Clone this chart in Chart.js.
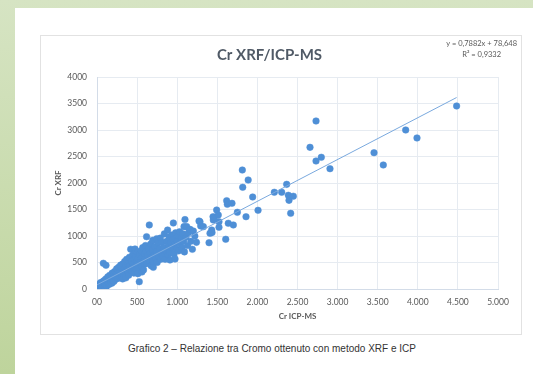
<!DOCTYPE html>
<html>
<head>
<meta charset="utf-8">
<script src="https://cdn.jsdelivr.net/npm/chart.js@4.4.0/dist/chart.umd.min.js"></script>
<style>
  html, body { margin: 0; padding: 0; }
  body {
    width: 533px; height: 374px; position: relative; overflow: hidden;
    background: linear-gradient(to bottom, #d6e4c3, #bed49c);
  }
  #page { position: absolute; left: 15px; top: 8px; right: 0; bottom: 0; background: #fff; }
  #frame { position: absolute; left: 40px; top: 35px; width: 480px; height: 298px; border: 1px solid #e2e2e2; }
  #wrap { position: absolute; left: 41px; top: 36px; width: 479px; height: 297px; }
  #eq {
    position: absolute; right: 16px; top: 38px; text-align: center;
    font: 7.5px Lato, sans-serif; color: #595959; line-height: 11px;
  }
  #caption {
    position: absolute; left: 128px; top: 343px;
    font: 10px "Liberation Sans", Arial, sans-serif; color: #333;
  }
</style>
</head>
<body>
<div id="page"></div>
<div id="frame"></div>
<div id="wrap"><canvas id="crChart" width="479" height="297"></canvas></div>
<div id="eq">y = 0,7882x + 78,648<br>R² = 0,9332</div>
<div id="caption">Grafico 2 – Relazione tra Cromo ottenuto con metodo XRF e ICP</div>
<script>
// Cr ICP-MS (x) and Cr XRF (y)
const icpValues = [
  5, 10, 15, 20, 25, 30, 35, 40, 45, 50, 55, 60, 65, 70, 75, 79, 80, 85, 90, 95, 100, 100, 112,
  105, 110, 115, 120, 125, 130, 135, 140, 145, 150, 155, 160, 165, 170, 175, 180, 185, 190, 195, 200, 200,
  205, 210, 215, 220, 225, 230, 235, 240, 245, 250, 260, 265, 270, 280, 285, 290, 295,
  300, 305, 310, 320, 320, 325, 330, 340, 345, 350, 360, 360, 365, 370, 380, 385, 390, 395,
  400, 405, 410, 420, 425, 430, 440, 445, 450, 460, 465, 470, 474, 480, 490, 495,
  500, 505, 510, 510, 520, 527, 530, 540, 550, 555, 560, 560, 570, 575, 580, 590, 595,
  600, 605, 610, 618, 620, 630, 640, 650, 652, 660, 670, 675, 680, 690, 695, 700,
  702, 710, 720, 730, 740, 744, 750, 760, 770, 780, 790, 795,
  800, 810, 820, 830, 840, 850, 860, 870, 880, 885, 890, 900,
  905, 910, 920, 930, 940, 950, 952, 960, 970, 973, 980, 990,
  1000, 1010, 1020, 1030, 1040, 1050, 1060, 1070, 1080, 1085, 1090, 1097,
  1110, 1118, 1130, 1140, 1160, 1170, 1189, 1201, 1220, 1240, 1272, 1284, 1293, 1326,
  1397, 1409, 1430, 1434, 1447, 1450, 1462, 1492, 1512, 1521, 1521, 1605, 1617, 1625, 1637, 1683, 1700,
  1750, 1812, 1817, 1858, 1885, 1941, 2008, 2211, 2303, 2365, 2386, 2394, 2415, 2448,
  2656, 2731, 2731, 2797, 2905, 3454, 3570, 3849, 3990, 4484
];
const xrfValues = [
  10, 30, 40, 60, 15, 90, 25, 45, 120, 95, 70, 20, 40, 100, 140, 485, 55, 120, 160, 85, 30, 70, 447,
  110, 190, 40, 70, 180, 150, 230, 120, 90, 200, 90, 260, 140, 170, 130, 240, 110, 300, 150, 210, 160,
  280, 140, 260, 330, 230, 180, 220, 300, 380, 250, 200, 340, 410, 290, 220, 360, 450,
  310, 250, 400, 470, 190, 330, 280, 380, 520, 300, 440, 210, 360, 560, 410, 330, 480, 260,
  390, 600, 450, 750, 350, 520, 410, 640, 480, 300, 560, 420, 755, 620, 380, 520,
  460, 700, 580, 290, 400, 138, 650, 500, 720, 430, 600, 320, 780, 520, 360, 660, 470,
  560, 820, 700, 987, 480, 620, 760, 540, 1208, 680, 850, 440, 600, 740, 920, 520,
  409, 640, 800, 580, 700, 949, 500, 870, 620, 760, 960, 560,
  680, 880, 620, 780, 1040, 560, 720, 900, 1113, 640, 820, 980,
  700, 547, 880, 1020, 780, 940, 1245, 660, 850, 566, 1060, 760,
  900, 1000, 720, 1080, 860, 960, 780, 1040, 900, 1176, 700, 1310,
  980, 1176, 820, 1060, 1126, 900, 749, 1094, 1000, 880, 1283, 1270, 1189, 1176,
  874, 1051, 1113, 1064, 1364, 1302, 1353, 1490, 1396, 1270, 1164, 938, 1666, 1598, 1240, 1617, 1208,
  1447, 2245, 1919, 1364, 2057, 1736, 1485, 1825, 1825, 1975, 1768, 1673, 1428, 1750,
  2673, 3170, 2415, 2485, 2270, 2572, 2340, 3000, 2850, 3453
];
const xTicks = [0, 500, 1000, 1500, 2000, 2500, 3000, 3500, 4000, 4500, 5000];
const xTickLabels = ['00', '500', '1.000', '1.500', '2.000', '2.500', '3.000', '3.500', '4.000', '4.500', '5.000'];
const yTicks = [0, 500, 1000, 1500, 2000, 2500, 3000, 3500, 4000];
const yTickLabels = ['0', '500', '1000', '1500', '2000', '2500', '3000', '3500', '4000'];
// linear trend given in the chart
const trendSlope = 0.7882;
const trendIntercept = 78.648;
const trendRange = [0, 4484];

const points = icpValues.map((x, i) => ({ x: x, y: xrfValues[i] }));
const trendPoints = trendRange.map(x => ({ x: x, y: trendSlope * x + trendIntercept }));

const tickFont = { family: 'Lato', size: 8.5 };
const titleFont = { family: 'Lato', size: 8, weight: 'bold' };

new Chart(document.getElementById('crChart'), {
    type: 'scatter',
    data: {
        datasets: [
            {
                type: 'line',
                data: trendPoints,
                borderColor: '#7aa9de',
                borderWidth: 1,
                pointRadius: 0,
                order: 0
            },
            {
                data: points,
                backgroundColor: '#4e8fd6',
                borderColor: '#4e8fd6',
                borderWidth: 0.5,
                pointRadius: 3.3,
                order: 1
            }
        ]
    },
    options: {
        responsive: false,
        animation: false,
        layout: { padding: { top: 0, right: 22, left: 0, bottom: 0 } },
        plugins: {
            legend: { display: false },
            tooltip: { enabled: false },
            title: {
                display: true,
                text: 'Cr XRF/ICP-MS',
                color: '#505a66',
                font: { family: 'Lato', size: 15, weight: 'bold' },
                padding: { top: 10, bottom: 13 }
            }
        },
        scales: {
            x: {
                type: 'linear',
                min: 0, max: 5000,
                afterBuildTicks: s => { s.ticks = xTicks.map(v => ({ value: v })); },
                afterFit: s => { s.height = 44; },
                ticks: {
                    callback: v => xTickLabels[xTicks.indexOf(v)],
                    color: '#595959', font: tickFont, padding: 8, maxRotation: 0
                },
                grid: { color: '#e6ebf1', drawTicks: false },
                border: { color: '#d3dce8' },
                title: { display: true, text: 'Cr ICP-MS', color: '#595959', font: titleFont, padding: { top: 0, bottom: 12 } }
            },
            y: {
                min: 0, max: 4000,
                afterBuildTicks: s => { s.ticks = yTicks.map(v => ({ value: v })); },
                afterFit: s => { s.width = 56; },
                ticks: {
                    callback: v => yTickLabels[yTicks.indexOf(v)],
                    color: '#595959', font: tickFont, padding: 10
                },
                grid: { color: '#e6ebf1', drawTicks: false },
                border: { color: '#d3dce8' },
                title: { display: true, text: 'Cr XRF', color: '#595959', font: titleFont, padding: { top: 13, bottom: 0 } }
            }
        }
    }
});
</script>
</body>
</html>
